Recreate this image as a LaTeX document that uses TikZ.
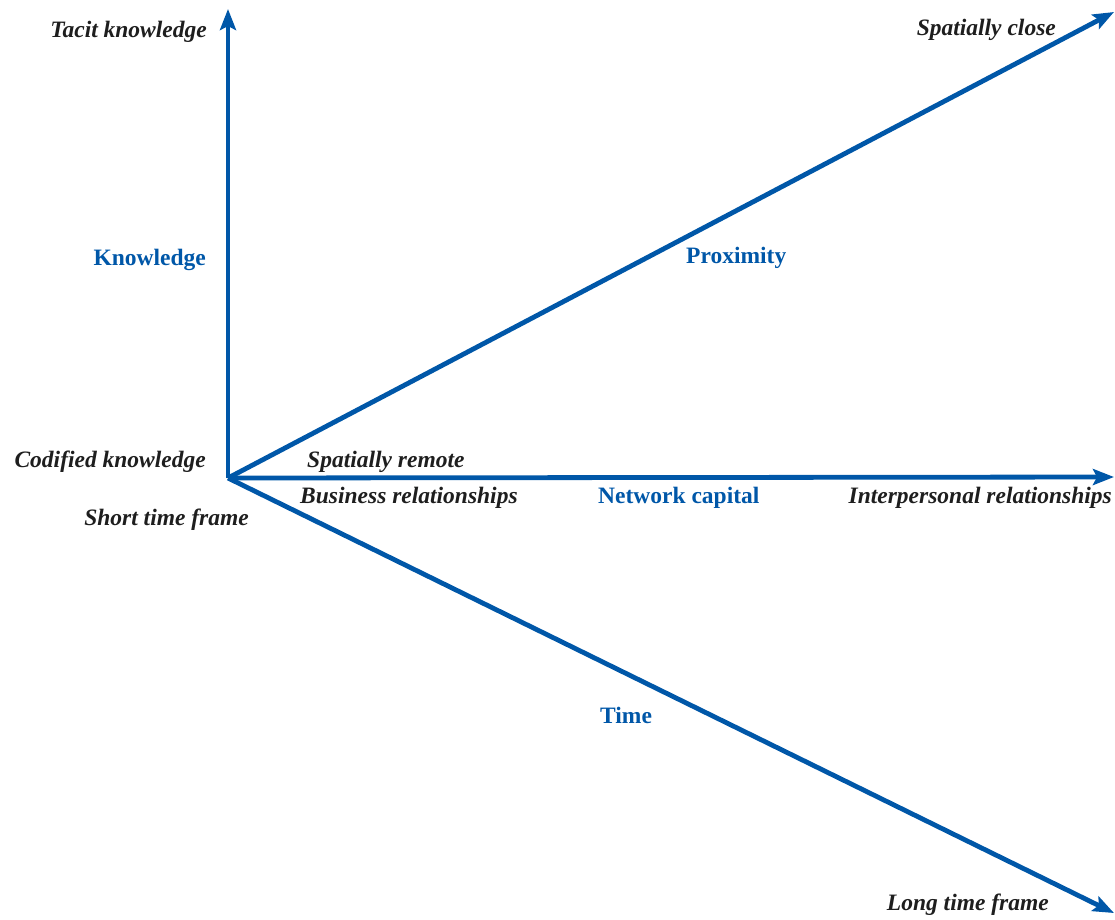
\documentclass[tikz,border=0pt]{standalone}
\usepackage{fontspec}
\setmainfont{LiberationSerif}[
  Extension=.ttf,
  UprightFont=*-Regular,
  BoldFont=*-Bold,
  ItalicFont=*-Italic,
  BoldItalicFont=*-BoldItalic]
\usetikzlibrary{arrows.meta}
\definecolor{axisblue}{RGB}{0,87,168}
\definecolor{labelgray}{RGB}{30,30,30}
\tikzset{
  axis/.style={draw=axisblue, line width=4.8pt, line cap=butt,
    -{Stealth[length=21pt, width=16pt, inset=4pt]}},
  pole/.style={font=\fontsize{23.5}{28}\selectfont\bfseries\itshape,
    text=labelgray, inner sep=0pt},
  dimname/.style={font=\fontsize{23.5}{28}\selectfont\bfseries,
    text=axisblue, inner sep=0pt}
}
\begin{document}
\begin{tikzpicture}[x=1pt, y=-1pt]
  \useasboundingbox (0,0) rectangle (1115,919);

  % common origin and the ends of the four axes
  \coordinate (O) at (228,478);
  \coordinate (knowTip) at (228,9);
  \coordinate (proxTip) at (1114,12);
  \coordinate (netTip) at (1114,477);
  \coordinate (timeTip) at (1114,913);

  \draw[axis] (O) -- (knowTip);
  \draw[axis] (O) -- (proxTip);
  \draw[axis] (O) -- (netTip);
  \draw[axis] (O) -- (timeTip);

  % knowledge axis
  \node[pole, anchor=base east] (tacit) at (207,37) {Tacit knowledge};
  \node[dimname, anchor=base east] (knowledge) at (206,265) {Knowledge};
  \node[pole, anchor=base east] (codified) at (206,467) {Codified knowledge};

  % proximity axis
  \node[pole, anchor=base east] (close) at (1056,35) {Spatially close};
  \node[dimname, anchor=base west] (proximity) at (686,263) {Proximity};
  \node[pole, anchor=base west] (remote) at (307,467) {Spatially remote};

  % network capital axis
  \node[pole, anchor=base west] (business) at (300,503) {Business relationships};
  \node[dimname, anchor=base west] (network) at (598,503) {Network capital};
  \node[pole, anchor=base east] (interpersonal) at (1112,503) {Interpersonal relationships};

  % time axis
  \node[pole, anchor=base east] (short) at (249,525) {Short time frame};
  \node[dimname, anchor=base west] (time) at (600,723) {Time};
  \node[pole, anchor=base east] (long) at (1049,910) {Long time frame};
\end{tikzpicture}
\end{document}
